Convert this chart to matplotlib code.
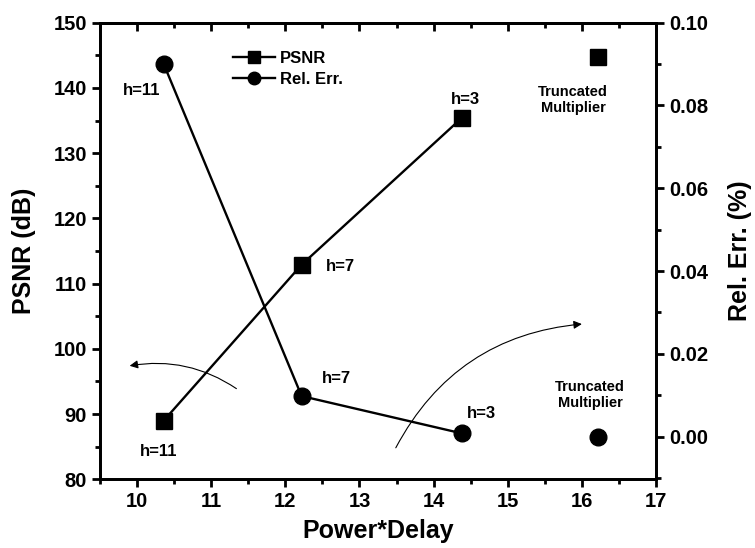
import matplotlib
matplotlib.use("Agg")
import matplotlib.pyplot as plt
from matplotlib.lines import Line2D

plt.rcParams['font.family'] = ['Liberation Sans', 'DejaVu Sans']
plt.rcParams['font.weight'] = 'bold'

# Data
x_curve = [10.36, 12.22, 14.38]
psnr_curve = [89.0, 112.9, 135.4]
relerr_curve = [0.090, 0.0098, 0.0008]
x_trunc = [16.22]
psnr_trunc = [144.7]
relerr_trunc = [-0.0002]
h_labels = ['h=11', 'h=7', 'h=3']

W, H = 755, 548
AX_L, AX_R, AX_T, AX_B = 100, 656, 22.7, 479.3

fig = plt.figure(figsize=(W/100, H/100), dpi=100)
ax = fig.add_axes([AX_L/W, 1-AX_B/H, (AX_R-AX_L)/W, (AX_B-AX_T)/H])
ax2 = ax.twinx()

lw_sp = 2.0
for a in (ax, ax2):
    for s in a.spines.values():
        s.set_linewidth(lw_sp)

# PSNR (left axis)
ax.plot(x_curve, psnr_curve, color='black', lw=1.7, marker='s', ms=12, zorder=3)
ax.plot(x_trunc, psnr_trunc, color='black', lw=0, marker='s', ms=12, zorder=3)
# Rel. Err. (right axis)
ax2.plot(x_curve, relerr_curve, color='black', lw=1.7, marker='o', ms=12, zorder=3)
ax2.plot(x_trunc, relerr_trunc, color='black', lw=0, marker='o', ms=12, zorder=3)

ax.set_xlim(9.5, 17)
ax.set_ylim(80, 150)
ax2.set_ylim(-0.0103, 0.10)

ax.set_xticks(range(10, 18))
ax.set_xticks([9.5 + 0.5*i for i in range(16)], minor=True)
ax.set_yticks(range(80, 151, 10))
ax.set_yticks(range(80, 151, 5), minor=True)
ax2.set_yticks([0.0, 0.02, 0.04, 0.06, 0.08, 0.10])
ax2.set_yticks([-0.01 + 0.01*i for i in range(12)], minor=True)
ax2.set_yticklabels(['0.00', '0.02', '0.04', '0.06', '0.08', '0.10'])

ax.tick_params(axis='both', which='major', direction='out', length=6, width=2, labelsize=14.5)
ax.tick_params(axis='both', which='minor', direction='out', length=3.5, width=2)
ax2.tick_params(axis='y', which='major', direction='out', length=6, width=2, labelsize=14.5)
ax2.tick_params(axis='y', which='minor', direction='out', length=3.5, width=2)

top = ax.secondary_xaxis('top')
top.set_xticks(range(10, 18))
top.set_xticks([9.5 + 0.5*i for i in range(16)], minor=True)
top.tick_params(which='major', direction='in', length=6, width=2, labeltop=False)
top.tick_params(which='minor', direction='in', length=3.5, width=2)
top.spines['top'].set_linewidth(lw_sp)

for lab in ax.get_xticklabels() + ax.get_yticklabels() + ax2.get_yticklabels():
    lab.set_fontweight('bold')

ax.set_xlabel('Power*Delay', fontsize=18, fontweight='bold', va='center')
ax.set_ylabel('PSNR (dB)', fontsize=18, fontweight='bold', va='center')
ax2.set_ylabel('Rel. Err. (%)', fontsize=18, fontweight='bold', va='center')
ax.xaxis.set_label_coords((378 - AX_L)/(AX_R-AX_L), (AX_B - 531)/(AX_B-AX_T))
ax.yaxis.set_label_coords((24 - AX_L)/(AX_R-AX_L), 0.5)
ax2.yaxis.set_label_coords((740 - AX_L)/(AX_R-AX_L), 0.5)

# Annotations (figure pixel positions converted to fraction)
def fpt(px, py):
    return (px/W, 1-py/H)

ann = [
    ('h=11', 141.7, 90.7), ('h=11', 158.3, 451.7),
    ('h=7', 340, 266.7), ('h=7', 336.7, 378.3),
    ('h=3', 465, 100), ('h=3', 481.7, 413.3),
]
for t, px, py in ann:
    fig.text(*fpt(px, py), t, ha='center', va='center', fontsize=12, fontweight='bold')
fig.text(*fpt(573, 100), 'Truncated\nMultiplier', ha='center', va='center', fontsize=10.5,
         fontweight='bold', linespacing=1.25)
fig.text(*fpt(590, 395), 'Truncated\nMultiplier', ha='center', va='center', fontsize=10.5,
         fontweight='bold', linespacing=1.25)

# Curved arrows
ax.annotate('', xy=(9.9, 97.4), xytext=(11.34, 93.9),
            arrowprops=dict(arrowstyle='-|>', color='black', lw=0.8, mutation_scale=12,
                            connectionstyle='arc3,rad=0.2', shrinkA=0, shrinkB=0))
ax.annotate('', xy=(16.0, 103.8), xytext=(13.49, 84.83),
            arrowprops=dict(arrowstyle='-|>', color='black', lw=0.8, mutation_scale=12,
                            connectionstyle='arc3,rad=-0.27', shrinkA=0, shrinkB=0))

# Legend
handles = [Line2D([], [], color='black', lw=1.7, marker='s', ms=9),
           Line2D([], [], color='black', lw=1.7, marker='o', ms=9)]
leg = ax2.legend(handles, ['PSNR', 'Rel. Err.'], loc='upper left',
                 bbox_to_anchor=fpt(233, 51), bbox_transform=fig.transFigure,
                 frameon=False, prop={'weight': 'bold', 'size': 12},
                 handlelength=2.5, handletextpad=0.3,
                 borderpad=0, borderaxespad=0, labelspacing=0.35)

fig.savefig('out.png', dpi=100)
